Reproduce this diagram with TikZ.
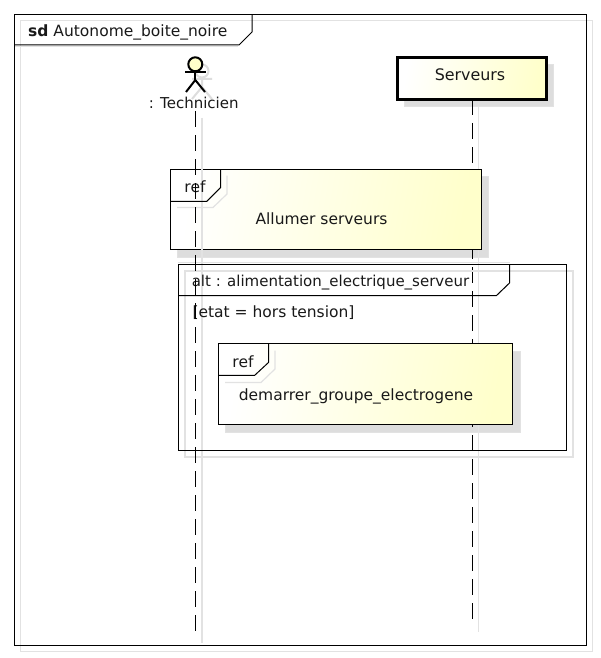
\documentclass[tikz,border=0pt]{standalone}
\usepackage{fontspec}
\setmainfont{DejaVu Sans}
\definecolor{lemon}{HTML}{FFFFCB}
\definecolor{shade}{HTML}{DDDDDD}
\definecolor{shadeline}{HTML}{E2E2E2}
\tikzset{
  every node/.style={font=\fontsize{15.5}{18}\selectfont, text=black!90, inner sep=0pt},
  ink/.style={draw=black, line width=1pt},
  ghost/.style={draw=shadeline, line width=1.2pt},
  lifeline/.style={draw=black, line width=1.5pt, dash pattern=on 16pt off 8pt},
  ghostline/.style={draw=shadeline, line width=1.3pt},
  lemonbox/.style={draw=black, line width=1pt, left color=white, right color=lemon, shading angle=80, rectangle},
  shadebox/.style={draw=shadeline, line width=.8pt, fill=shade, rectangle},
  limb/.style={draw=black, line width=2pt},
  ghostlimb/.style={draw=shade, line width=2pt}
}
\begin{document}
\begin{tikzpicture}[x=1pt,y=-1pt]
\useasboundingbox (0,0) rectangle (600,658);
\fill[white] (0,0) rectangle (600,658);
% outer frame shadow
\draw[ghost] (20.5,20.5) rectangle (592.8,651.5);
\draw[ghost] (14.5,46.5) -- (238,46.5);
% actor shadow
\draw[ghostlimb] (202,71) circle (6.5);
\draw[ghostlimb] (202,77.5) -- (202,87) (192,79) -- (212,79) (192,99) -- (202,87) -- (212,99);
% box shadows
\node[shadebox, minimum width=149pt, minimum height=42pt] (servshadow) at (479,85.5) {};
\node[shadebox, minimum width=311pt, minimum height=81pt] (refAshadow) at (332.5,216.5) {};
\node[shadebox, minimum width=294.5pt, minimum height=81pt] (refBshadow) at (372.75,391.5) {};
% lifeline shadows
\coordinate (gl1) at (202,118); \coordinate (gl2) at (202,643);
\coordinate (gr1) at (478.7,106); \coordinate (gr2) at (478.7,631.5);
\draw[ghostline] (gr1) -- (gr2);
% right lifeline
\coordinate (rl1) at (472.5,99); \coordinate (rl2) at (472.5,619);
\draw[lifeline] (rl1) -- (rl2);
% Serveurs
\node[lemonbox, line width=3pt, minimum width=149.5pt, minimum height=42pt] (serv) at (472,78.4) {};
\node[font=\fontsize{15.9}{18}\selectfont] (servtxt) at (470,75) {Serveurs};
% ref 1
\node[lemonbox, minimum width=311pt, minimum height=80.5pt] (refA) at (325.5,209.3) {};
\draw[ghostline] (gl1) -- (gl2);
\draw[ghost] (177,207.5) -- (213,207.5) -- (227,194) -- (227,175.5);
\draw[ink] (170.5,201.3) -- (206.8,201.3) -- (220.7,187.5) -- (220.7,169.5);
\node (refAlabel) at (195,187) {ref};
\node (refAtxt) at (321.5,219) {Allumer serveurs};
% alt frame
\draw[ghost] (178,262.5) -- (510,262.5);
\draw[ghost] (185,295.5) -- (185,271) -- (573,271) -- (573,457) -- (185,457) -- (185,295.5);
\draw[ink] (178.5,264.5) rectangle (566.5,450.5);
\draw[ink, line width=1.4pt] (178.5,264.5) -- (509.5,264.5);
\draw[ink] (509.5,264.5) -- (509.5,283) -- (496.5,295.5) -- (178.5,295.5);
\node[font=\fontsize{15}{18}\selectfont] (alttxt) at (330.5,282.5) {alt : alimentation\_electrique\_serveur};
\node (etat) at (273.5,312.5) {[etat = hors tension]};
% ref 2
\node[lemonbox, minimum width=294.5pt, minimum height=81pt] (refB) at (365.6,384.4) {};
\draw[ghost] (225,382.5) -- (261,382.5) -- (275,369) -- (275,350.5);
\draw[ink] (218.8,375.3) -- (254.7,375.3) -- (268.7,362.3) -- (268.7,343);
\node (refBlabel) at (243,362) {ref};
\node (refBtxt) at (356,396) {demarrer\_groupe\_electrogene};
% outer frame
\draw[ink] (14.5,14.5) rectangle (586.5,645);
\draw[ink] (252,14.5) -- (252,32) -- (239,45) -- (14.5,45);
\node[anchor=west] (title) at (28,32) {\textbf{sd} Autonome\_boite\_noire};
% left lifeline
\coordinate (ll1) at (195.5,111); \coordinate (ll2) at (195.5,631);
\draw[lifeline] (ll1) -- (ll2);
% actor
\node[circle, draw=black, line width=2pt, fill=lemon, minimum size=14pt] (head) at (195.3,64.3) {};
\coordinate (hip) at (195.3,80); \coordinate (armL) at (185,72); \coordinate (armR) at (206,72);
\coordinate (footL) at (186,92); \coordinate (footR) at (205,92);
\draw[limb] (head) -- (hip);
\draw[limb] (armL) -- (armR);
\draw[limb] (footL) -- (hip) -- (footR);
\node[font=\fontsize{15}{18}\selectfont] (techtxt) at (193.7,103) {: Technicien};
\end{tikzpicture}
\end{document}
